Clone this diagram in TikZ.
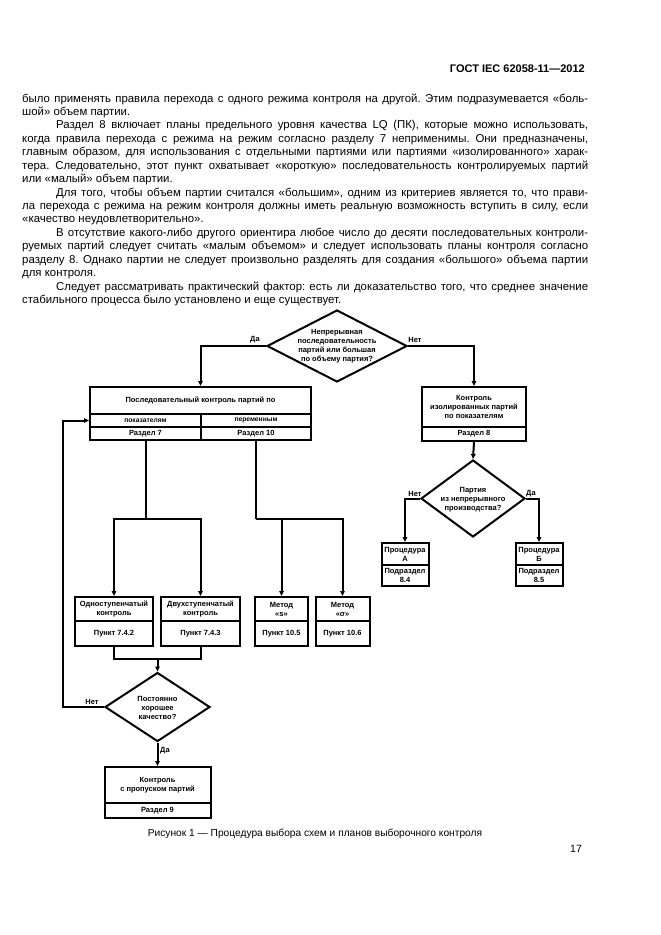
\documentclass[tikz,border=0pt]{standalone}
\usepackage{fontspec}
\setmainfont{Liberation Sans}
\usetikzlibrary{shapes.geometric,arrows.meta}
\frenchspacing
\newcommand{\bodyfont}{\fontsize{11.4}{13.4}\selectfont}
\newcommand{\dfont}{\bfseries\fontsize{7.5}{9}\selectfont}
\newcommand{\sfont}{\bfseries\fontsize{6.7}{7}\selectfont}
\newcommand{\FL}[3]{\node[bodyt] (t#1) at ({22+#2}, {102+13.43*(#1-1)}) {\makebox[\dimexpr 566pt-#2pt\relax][s]{#3}};}
\newcommand{\LL}[3]{\node[bodyt] (t#1) at ({22+#2}, {102+13.43*(#1-1)}) {#3};}
\begin{document}
\begin{tikzpicture}[x=1pt,y=-1pt,
  ln/.style={line width=2pt},
  arr/.style={line width=2pt, -{Triangle[length=5pt,width=4.5pt]}},
  cell/.style={draw, line width=2pt, inner sep=0pt, align=center, font=\dfont},
  scell/.style={cell, font=\sfont},
  dia/.style={draw, diamond, line width=2pt, inner sep=0pt},
  dtxt/.style={inner sep=0pt, align=center, font=\dfont},
  lbl/.style={inner sep=0pt, font=\dfont},
  bodyt/.style={inner sep=0pt, anchor=base west, font=\bodyfont}]
\fill[white] (0,0) rectangle (661,935);
\useasboundingbox (0,0) rectangle (661,935);

% header
\node[font=\bfseries\fontsize{11}{13}\selectfont, anchor=base east, inner sep=0pt] (hdr) at (585,72) {ГОСТ IEC 62058-11—2012};

% body text
\FL{1}{0}{было применять правила перехода с одного режима контроля на другой. Этим подразумевается «боль-}
\LL{2}{0}{шой» объем партии.}
\FL{3}{34}{Раздел 8 включает планы предельного уровня качества LQ (ПК), которые можно использовать,}
\FL{4}{0}{когда правила перехода с режима на режим согласно разделу 7 неприменимы. Они предназначены,}
\FL{5}{0}{главным образом, для использования с отдельными партиями или партиями «изолированного» харак-}
\FL{6}{0}{тера. Следовательно, этот пункт охватывает «короткую» последовательность контролируемых партий}
\LL{7}{0}{или «малый» объем партии.}
\FL{8}{34}{Для того, чтобы объем партии считался «большим», одним из критериев является то, что прави-}
\FL{9}{0}{ла перехода с режима на режим контроля должны иметь реальную возможность вступить в силу, если}
\LL{10}{0}{«качество неудовлетворительно».}
\FL{11}{34}{В отсутствие какого-либо другого ориентира любое число до десяти последовательных контроли-}
\FL{12}{0}{руемых партий следует считать «малым объемом» и следует использовать планы контроля согласно}
\FL{13}{0}{разделу 8. Однако партии не следует произвольно разделять для создания «большого» объема партии}
\LL{14}{0}{для контроля.}
\FL{15}{34}{Следует рассматривать практический фактор: есть ли доказательство того, что среднее значение}
\LL{16}{0}{стабильного процесса было установлено и еще существует.}

% decision 1
\node[dia, minimum width=140pt, minimum height=72pt] (D1) at (337,346) {};
\node[dtxt] (D1t) at (337,346) {Непрерывная\\последовательность\\партий или большая\\по объему партия?};
\node[lbl] (D1y) at (255,340) {Да};
\node[lbl] (D1n) at (415,340) {Нет};

% sequential control box
\node[cell, minimum width=221pt, minimum height=27pt] (Bt) at (200.5,400.5) {Последовательный контроль партий по};
\node[scell, minimum width=111pt, minimum height=13pt] (BL2) at (145.5,420.5) {показателям};
\node[scell, minimum width=110pt, minimum height=13pt] (BR2) at (256,420.5) {переменным};
\node[cell, minimum width=111pt, minimum height=13pt] (BL3) at (145.5,433.5) {Раздел 7};
\node[cell, minimum width=110pt, minimum height=13pt] (BR3) at (256,433.5) {Раздел 10};

% isolated lots box
\node[cell, minimum width=104pt, minimum height=40pt] (Rt) at (474,407) {Контроль\\изолированных партий\\по показателям};
\node[cell, minimum width=104pt, minimum height=14pt] (Rb) at (474,434) {Раздел 8};

% decision 2
\node[dia, minimum width=104pt, minimum height=77pt] (D2) at (473,498.5) {};
\node[dtxt] (D2t) at (473,500) {Партия\\из непрерывного\\производства?};
\node[lbl] (D2n) at (415,494) {Нет};
\node[lbl] (D2y) at (531,494) {Да};

% procedures
\node[cell, minimum width=47pt, minimum height=22pt] (PA1) at (405,554) {Процедура\\А};
\node[cell, minimum width=47pt, minimum height=21pt] (PA2) at (405,575.5) {Подраздел\\8.4};
\node[cell, minimum width=47pt, minimum height=22pt] (PB1) at (539,554) {Процедура\\Б};
\node[cell, minimum width=47pt, minimum height=21pt] (PB2) at (539,575.5) {Подраздел\\8.5};

% row of method boxes
\node[cell, minimum width=78pt, minimum height=24pt] (C1t) at (114,609) {Одноступенчатый\\контроль};
\node[cell, minimum width=78pt, minimum height=25pt] (C1b) at (114,633.5) {Пункт 7.4.2};
\node[cell, minimum width=79pt, minimum height=24pt] (C2t) at (200.5,609) {Двухступенчатый\\контроль};
\node[cell, minimum width=79pt, minimum height=25pt] (C2b) at (200.5,633.5) {Пункт 7.4.3};
\node[cell, minimum width=53pt, minimum height=24pt] (C3t) at (281.5,609) {Метод\\«s»};
\node[cell, minimum width=53pt, minimum height=25pt] (C3b) at (281.5,633.5) {Пункт 10.5};
\node[cell, minimum width=54pt, minimum height=24pt] (C4t) at (342.5,609) {Метод\\«σ»};
\node[cell, minimum width=54pt, minimum height=25pt] (C4b) at (342.5,633.5) {Пункт 10.6};

% decision 3
\node[dia, minimum width=105pt, minimum height=69pt] (D3) at (157.5,707) {};
\node[dtxt] (D3t) at (157.5,708) {Постоянно\\хорошее\\качество?};
\node[lbl] (D3n) at (92,702) {Нет};
\node[lbl] (D3y) at (165,751) {Да};

% skip-lot box
\node[cell, minimum width=106pt, minimum height=36pt] (E1) at (157.5,785) {Контроль\\с пропуском партий};
\node[cell, minimum width=106pt, minimum height=15pt] (E2) at (157.5,810.5) {Раздел 9};

% junction coordinates
\coordinate (jL) at (145.5,519);
\coordinate (jR) at (256,519);
\coordinate (jB) at (157.5,659);
\coordinate (fb) at (63,420.5);

% connectors
\draw[arr] (D1.west) -| (Bt.north);
\draw[arr] (D1.east) -| (Rt.north);
\draw[arr] (Rb.south) -- (D2.north);
\draw[arr] (D2.west) -| (PA1.north);
\draw[arr] (D2.east) -| (PB1.north);
\draw[ln] (BL3.south) -- (jL);
\draw[arr] (jL) -| (C1t.north);
\draw[arr] (jL) -| (C2t.north);
\draw[ln] (BR3.south) -- (jR);
\draw[arr] (jR) -| (C3t.north);
\draw[arr] (jR) -| (C4t.north);
\draw[ln] (C1b.south) |- (jB);
\draw[ln] (C2b.south) |- (jB);
\draw[arr] (jB) -- (D3.north);
\draw[arr] (D3.south) -- (E1.north);
\draw[arr] (D3.west) -| (fb) -- (BL2.west);

% caption and page number
\node[font=\fontsize{10.2}{12}\selectfont, anchor=base, inner sep=0pt] (cap) at (315,836.5) {Рисунок 1 — Процедура выбора схем и планов выборочного контроля};
\node[font=\fontsize{10.5}{12}\selectfont, anchor=base, inner sep=0pt] (pg) at (576,852) {17};
\end{tikzpicture}
\end{document}
